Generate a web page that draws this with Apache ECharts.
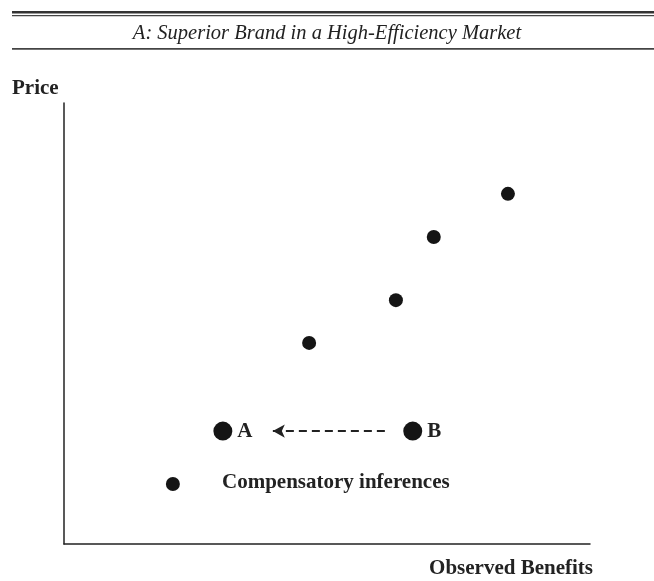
<!DOCTYPE html>
<html>
<head>
<meta charset="utf-8">
<script src="https://cdn.jsdelivr.net/npm/echarts@6/dist/echarts.min.js"></script>
<style>
  html, body { margin: 0; padding: 0; background: #fff; }
  #main { width: 654px; height: 581px; }
</style>
</head>
<body>
<div id="main"></div>
<script>
// points in abstract units (0-100 on each axis)
var smallX = [20.7, 46.6, 63.1, 70.3, 84.4];
var smallY = [13.6, 45.6, 55.3, 69.6, 79.4];
var bigNames = ['A', 'B'];
var bigX = [30.2, 66.3];
var bigY = [25.6, 25.6];
// dashed arrow from B towards A
var arrowFrom = [61.0, 25.6];
var arrowTo = [39.7, 25.6];

var serif = '"Liberation Serif", "DejaVu Serif", serif';
var ink = '#151515';

var chart = echarts.init(document.getElementById('main'));

var smallData = smallX.map(function (x, i) { return [x, smallY[i]]; });
var bigData = bigX.map(function (x, i) { return { name: bigNames[i], value: [x, bigY[i]] }; });

chart.setOption({
    animation: false,
    grid: { left: 64, top: 103, right: 64, bottom: 37 },
    xAxis: {
        type: 'value', min: 0, max: 100,
        axisLine: { lineStyle: { color: '#222', width: 1.5 } },
        axisTick: { show: false }, axisLabel: { show: false }, splitLine: { show: false }
    },
    yAxis: {
        type: 'value', min: 0, max: 100,
        axisLine: { show: true, lineStyle: { color: '#222', width: 1.5 } },
        axisTick: { show: false }, axisLabel: { show: false }, splitLine: { show: false }
    },
    graphic: [
        { type: 'rect', shape: { x: 12, y: 11, width: 642, height: 2.5 }, style: { fill: '#333' } },
        { type: 'rect', shape: { x: 12, y: 15, width: 642, height: 1.2 }, style: { fill: '#444' } },
        { type: 'rect', shape: { x: 12, y: 48, width: 642, height: 1.8 }, style: { fill: '#444' } },
        {
            type: 'text', left: 'center', top: 24,
            style: { text: 'A: Superior Brand in a High-Efficiency Market', font: 'italic 20.5px ' + serif, fill: '#222' }
        },
        {
            type: 'text', left: 12, top: 78,
            style: { text: 'Price', font: 'bold 21px ' + serif, fill: '#222' }
        },
        {
            type: 'text', right: 61, top: 558,
            style: { text: 'Observed Benefits', font: 'bold 21px ' + serif, fill: '#222' }
        },
        {
            type: 'text', left: 222, top: 472,
            style: { text: 'Compensatory inferences', font: 'bold 21px ' + serif, fill: '#222' }
        }
    ],
    series: [
        {
            type: 'scatter',
            symbolSize: 14,
            itemStyle: { color: ink, opacity: 1 },
            data: smallData
        },
        {
            type: 'scatter',
            symbolSize: 19,
            itemStyle: { color: ink, opacity: 1 },
            label: {
                show: true, position: 'right', distance: 5,
                formatter: '{b}', color: '#222',
                fontFamily: serif, fontWeight: 'bold', fontSize: 21
            },
            data: bigData,
            markLine: {
                silent: true,
                symbol: ['none', 'arrow'],
                symbolSize: [10, 12],
                label: { show: false },
                lineStyle: { color: '#222', type: [8, 5], width: 1.8 },
                data: [[{ coord: arrowFrom }, { coord: arrowTo }]]
            }
        }
    ]
});
</script>
</body>
</html>
